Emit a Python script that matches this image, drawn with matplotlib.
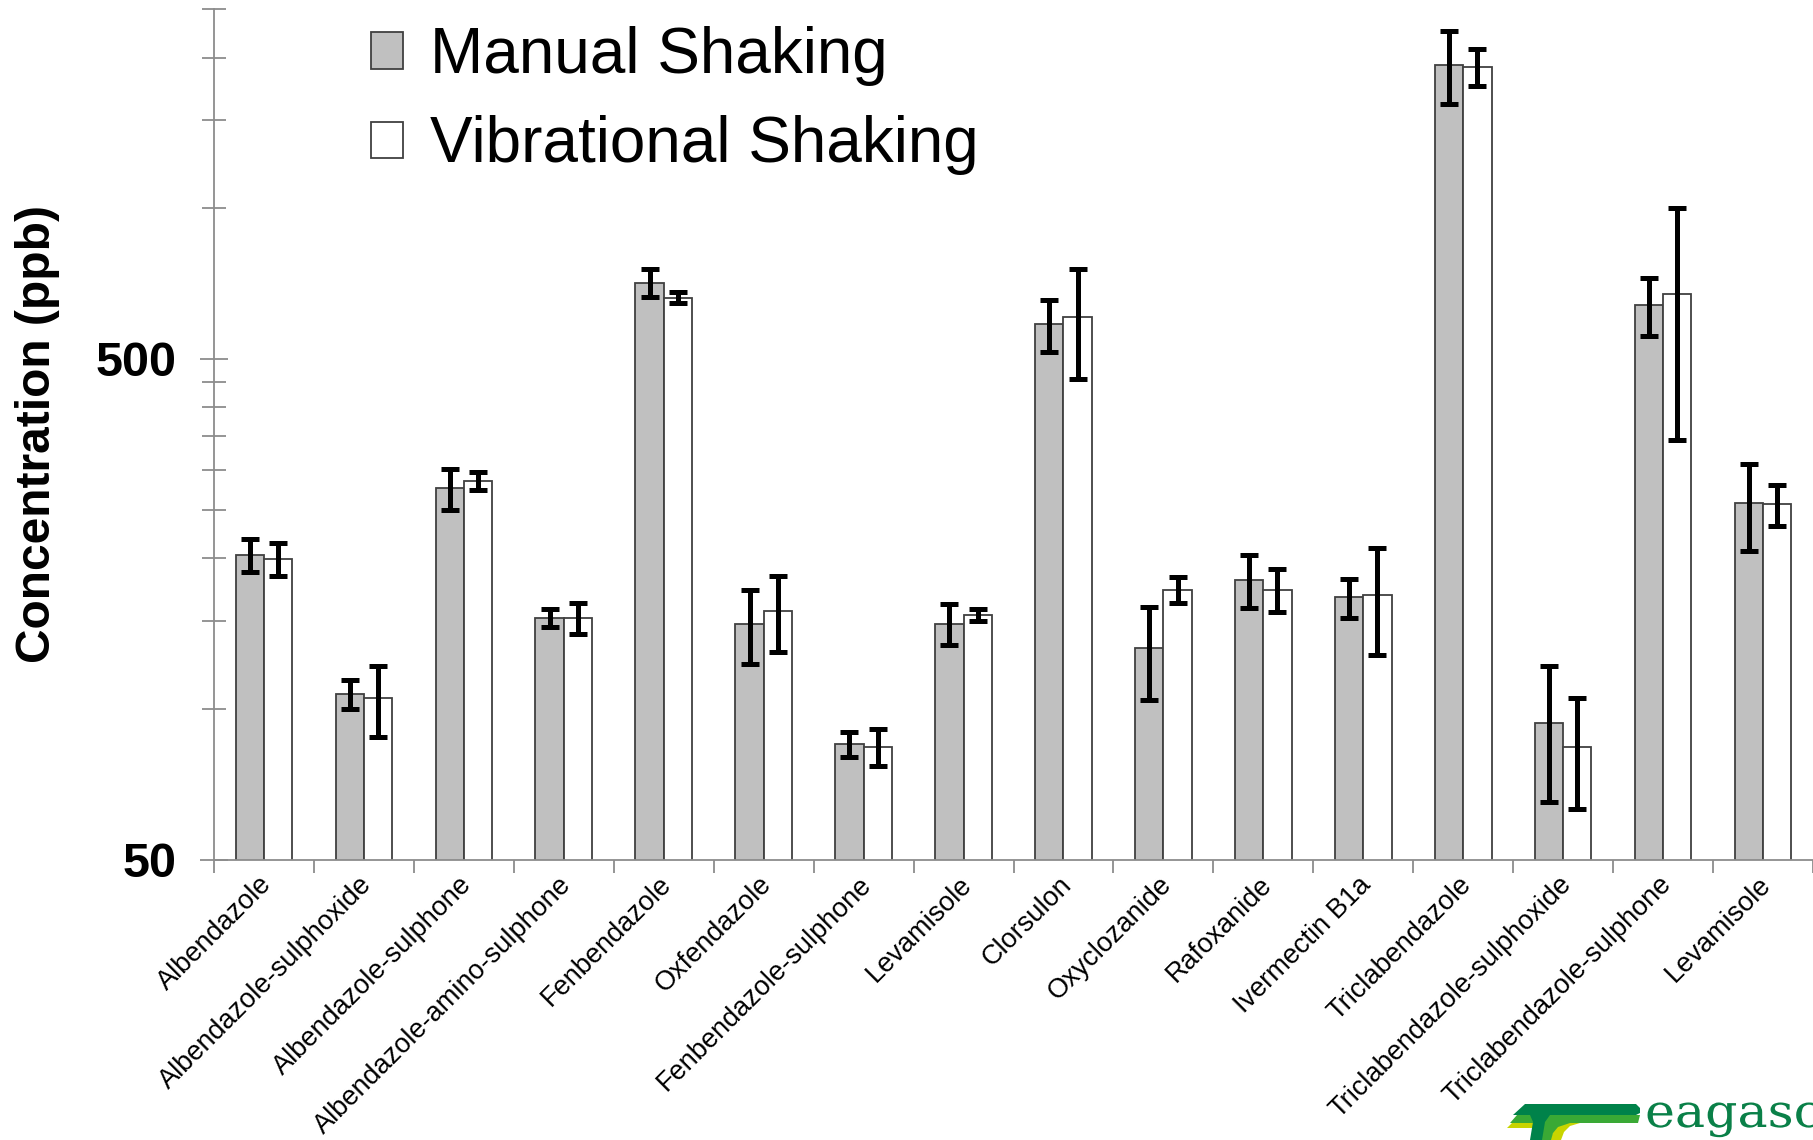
import numpy as np
import matplotlib
matplotlib.use("Agg")
import matplotlib.pyplot as plt
from matplotlib.ticker import FixedLocator, NullFormatter, FixedFormatter
from matplotlib.patches import Polygon, PathPatch
from matplotlib.textpath import TextPath
from matplotlib.font_manager import FontProperties
import matplotlib.transforms as mtransforms

plt.rcParams['font.family'] = ['Liberation Sans', 'DejaVu Sans']

# residue concentrations (ppb), mean and spread for each extraction method
compounds = ["Albendazole", "Albendazole-sulphoxide", "Albendazole-sulphone",
             "Albendazole-amino-sulphone", "Fenbendazole", "Oxfendazole",
             "Fenbendazole-sulphone", "Levamisole", "Clorsulon", "Oxyclozanide",
             "Rafoxanide", "Ivermectin B1a", "Triclabendazole",
             "Triclabendazole-sulphoxide", "Triclabendazole-sulphone", "Levamisole"]
manual = [203, 107, 276, 152, 710, 148, 85, 148, 586, 132, 181, 167, 1935, 93.5, 641, 258]
manual_err = [15, 7, 26, 6, 45, 25, 5, 14, 70, 28, 22, 15, 320, 28.5, 85, 51]
vibrational = [199, 105, 285, 152, 663, 157, 84, 154, 605, 173, 173, 169, 1914, 84, 673, 256]
vibrational_err = [15, 17, 12, 11, 16, 27, 7, 4, 150, 10.5, 17, 41, 163, 21, 328, 24]

W, H = 1813, 1140
fig = plt.figure(figsize=(W / 100, H / 100), dpi=100)
ax = fig.add_axes([214 / W, 1 - 859.5 / H, (W - 214) / W, (859.5 - 9) / H])

x = np.arange(len(compounds))
w = 0.283
axis_grey = '#8c8c8c'

ax.bar(x - w / 2, manual, w, color='#c0c0c0', edgecolor='#404040', linewidth=1.3,
       label='Manual Shaking', zorder=2)
ax.bar(x + w / 2, vibrational, w, color='white', edgecolor='#404040', linewidth=1.3,
       label='Vibrational Shaking', zorder=2)
ax.errorbar(x - w / 2, manual, yerr=manual_err, fmt='none', ecolor='black',
            elinewidth=3.6, capsize=6.5, capthick=3.6, zorder=3)
ax.errorbar(x + w / 2, vibrational, yerr=vibrational_err, fmt='none', ecolor='black',
            elinewidth=3.6, capsize=6.5, capthick=3.6, zorder=3)

ax.set_yscale('log')
ax.set_ylim(50, 2500)
ax.set_xlim(-0.5, len(compounds) - 0.5)

# y axis: only 50 and 500 labelled, minor ticks every 50 / 500
ax.yaxis.set_major_locator(FixedLocator([50, 500]))
ax.yaxis.set_major_formatter(FixedFormatter(['50', '500']))
minor = list(range(100, 500, 50)) + [1000, 1500, 2000, 2500]
ax.yaxis.set_minor_locator(FixedLocator(minor))
ax.yaxis.set_minor_formatter(NullFormatter())
ax.tick_params(axis='y', which='major', direction='inout', length=20, width=1.3,
               color=axis_grey, labelsize=35, pad=17)
ax.tick_params(axis='y', which='minor', direction='inout', length=17, width=1.3,
               color=axis_grey)
for lab in ax.get_yticklabels():
    lab.set_fontweight('bold')

# x axis: ticks between groups, names at group centres
ax.xaxis.set_minor_locator(FixedLocator(np.arange(len(compounds) + 1) - 0.5))
ax.set_xticks(x)
ax.set_xticklabels(compounds, rotation=45, ha='right', va='top',
                   rotation_mode='anchor', fontsize=19.5)
ax.tick_params(axis='x', which='major', length=0, pad=0)
ax.tick_params(axis='x', which='minor', direction='out', length=9, width=1.3,
               color=axis_grey)
shift = mtransforms.ScaledTranslation(-5 / 100, -12 / 100, fig.dpi_scale_trans)
for lab in ax.get_xticklabels():
    lab.set_transform(lab.get_transform() + shift)

for side in ('top', 'right'):
    ax.spines[side].set_visible(False)
for side in ('left', 'bottom'):
    ax.spines[side].set_color(axis_grey)
    ax.spines[side].set_linewidth(1.3)

ax.set_ylabel('Concentration (ppb)', fontsize=34.5, fontweight='bold')
ax.yaxis.set_label_coords((60 - 214) / (W - 214), 0.5)

ax.legend(loc='upper left', bbox_to_anchor=(371 / W, 1 - 26 / H),
          bbox_transform=fig.transFigure, frameon=False, fontsize=46,
          handlelength=0.5, handleheight=0.5, handletextpad=0.42,
          labelspacing=0.46, borderpad=0, borderaxespad=0)

# Teagasc logo, bottom right corner (drawn in pixel units, y downwards)
logo = fig.add_axes([1450 / W, 0, 363 / W, 90 / H])
logo.set_xlim(1450, 1813)
logo.set_ylim(1140, 1050)
logo.axis('off')
logo.add_patch(Polygon([(1507, 1128), (1512, 1123), (1580, 1123), (1570, 1126),
                        (1564, 1132), (1561, 1140), (1550, 1140), (1553, 1132),
                        (1545, 1128)], closed=True, color='#c8d400', lw=0))
logo.add_patch(Polygon([(1510, 1123), (1517, 1115), (1640, 1115), (1638, 1123),
                        (1570, 1123), (1558, 1127), (1553, 1133), (1551, 1140),
                        (1541, 1140), (1543, 1130), (1540, 1123)],
                       closed=True, color='#3aa935', lw=0))
logo.add_patch(Polygon([(1513, 1115), (1525, 1104), (1636, 1104), (1640, 1108),
                        (1640, 1113), (1636, 1115), (1550, 1115), (1545, 1122),
                        (1542, 1140), (1530, 1140), (1533, 1122), (1530, 1115)],
                       closed=True, color='#00824a', lw=0))
# wide lettering: text path stretched sideways, flipped for the inverted y axis
word = TextPath((0, 0), 'eagasc', size=46, prop=FontProperties(family='DejaVu Serif'))
word_tf = mtransforms.Affine2D().scale(1.1, -1.0).translate(1645, 1127) + logo.transData
logo.add_patch(PathPatch(word, transform=word_tf, color='#0a8048', lw=0, clip_on=False))

fig.savefig('out.png', dpi=100)
